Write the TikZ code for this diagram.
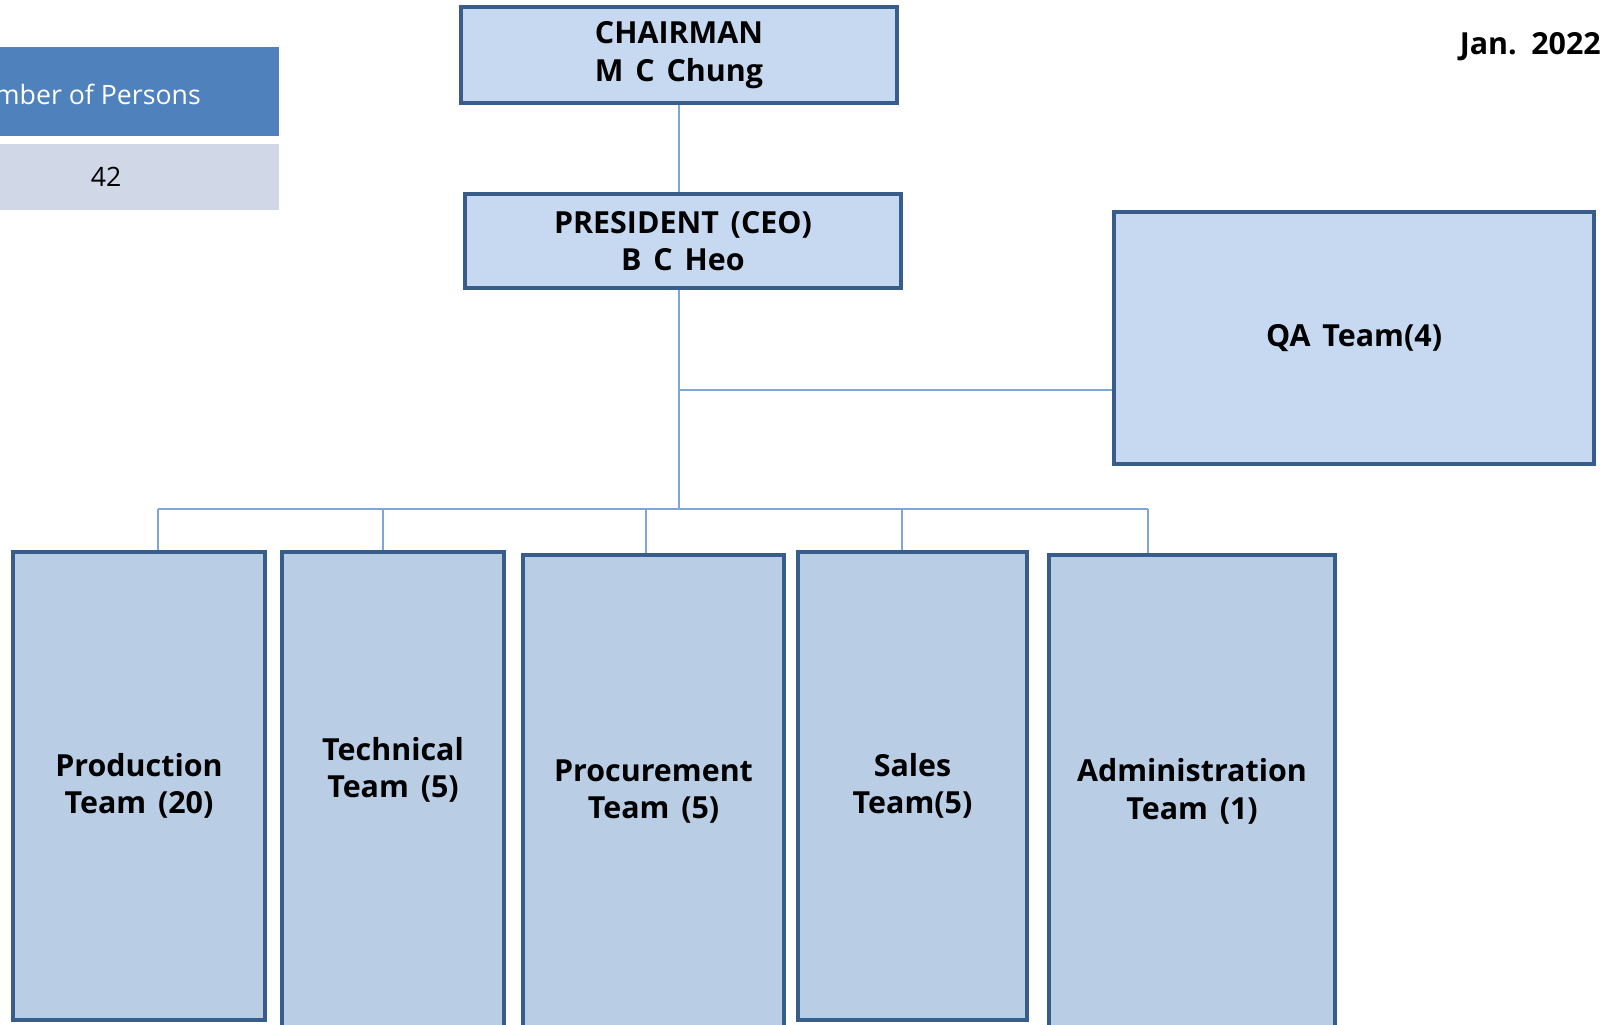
\documentclass[tikz,border=0pt]{standalone}
\usepackage{fontspec}
\setmainfont{Open Sans}[WordSpace=1.5]
\newfontfamily\cellfont{Open Sans}
\usepackage{xcolor}
\definecolor{boxline}{HTML}{385D8A}
\definecolor{topfill}{HTML}{C6D9F1}
\definecolor{teamfill}{HTML}{B9CDE5}
\definecolor{linkblue}{HTML}{7EA6DC}
\definecolor{headblue}{HTML}{4F81BD}
\definecolor{rowgray}{HTML}{D0D8E8}
\tikzset{
  orgbox/.style={draw=boxline, line width=3pt, fill=topfill, align=center, inner sep=0pt,
    font=\fontsize{22.8}{28}\selectfont\bfseries},
  teambox/.style={orgbox, fill=teamfill},
  link/.style={draw=linkblue, line width=1.5pt},
  cell/.style={inner sep=0pt, font=\cellfont\fontsize{20}{24}\selectfont}
}
\begin{document}
\begin{tikzpicture}[x=0.75pt,y=0.75pt,yscale=-1,xscale=1]
        \useasboundingbox (0,0) rectangle (1605,1024);

        %Table: number of persons
        \fill [headblue] (-200,47) rectangle (279,136);
        \fill [rowgray] (-200,144) rectangle (279,210);
        \node [cell, text=white, anchor=east] (headtxt) at (201,94) {Number of Persons};
        \node [cell] (total) at (106,177) {42};

        % Text Node
        \node [anchor=east, inner sep=0pt, font=\fontsize{22.8}{28}\selectfont\bfseries] (date) at (1601,47) {Jan. 2022};

        %Top boxes
        \node [orgbox, minimum width=436*0.75pt, minimum height=95*0.75pt] (chair) at (679,55) {CHAIRMAN\\M C Chung};
        \node [orgbox, minimum width=436*0.75pt, minimum height=94*0.75pt] (pres) at (683,241) {PRESIDENT (CEO)\\B C Heo};
        \node [orgbox, minimum width=480*0.75pt, minimum height=252*0.75pt] (qa) at (1354,338) {QA Team(4)};

        %Team boxes
        \node [teambox, minimum width=252*0.75pt, minimum height=468*0.75pt] (prod) at (139,786) {Production\\Team (20)};
        \node [teambox, minimum width=222*0.75pt, minimum height=476*0.75pt] (tech) at (393,790) {};
        \node [font=\fontsize{22.8}{28}\selectfont\bfseries, align=center, inner sep=0pt] (techtxt) at (393,770) {Technical\\Team (5)};
        \node [teambox, minimum width=261*0.75pt, minimum height=473*0.75pt] (proc) at (653.5,791.5) {Procurement\\Team (5)};
        \node [teambox, minimum width=229*0.75pt, minimum height=468*0.75pt] (sales) at (912.5,786) {Sales\\Team(5)};
        \node [teambox, minimum width=286*0.75pt, minimum height=473*0.75pt] (admin) at (1192,791.5) {Administration\\Team (1)};

        %Connectors
        \coordinate (qajoin) at (679,390);
        \coordinate (spine) at (679,509);
        \coordinate (busl) at (158,509);
        \coordinate (busr) at (1148,509);
        \path [link] (chair.south) -- (chair.south |- pres.north);
        \path [link] (chair.south |- pres.south) -- (spine);
        \path [link] (qajoin) -- (qajoin -| qa.west);
        \path [link] (busl) -- (busr);
        \foreach \dx/\team in {158/prod, 383/tech, 646/proc, 902/sales, 1148/admin}
          \path [link] (\dx,509) -- (\dx,509 |- \team.north);

        \end{tikzpicture}
\end{document}
